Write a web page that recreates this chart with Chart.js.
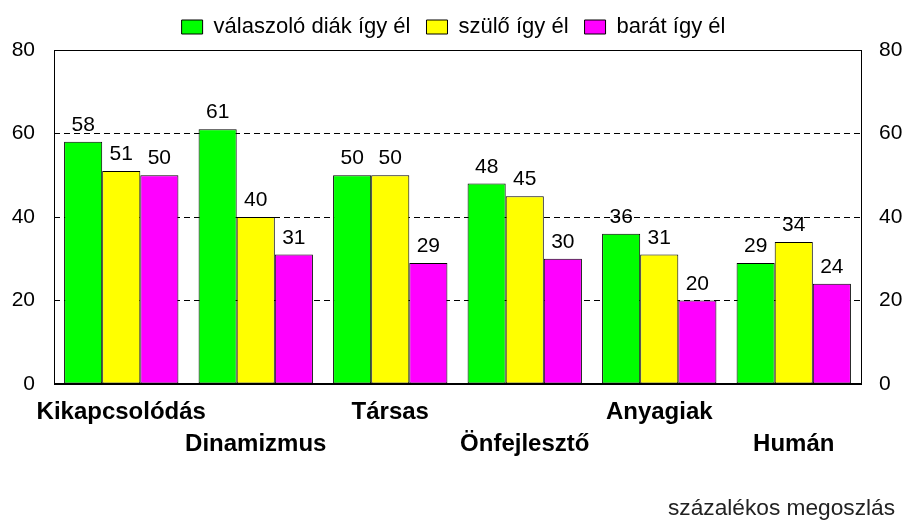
<!DOCTYPE html>
<html>
<head>
<meta charset="utf-8">
<script src="https://cdn.jsdelivr.net/npm/chart.js@4"></script>
<style>
  html, body { margin: 0; padding: 0; background: #fff; }
  #wrap { width: 907px; height: 529px; }
</style>
</head>
<body>
<div id="wrap"><canvas id="chart" width="907" height="529"></canvas></div>
<script>
var categories = ['Kikapcsolódás', 'Dinamizmus', 'Társas', 'Önfejlesztő', 'Anyagiak', 'Humán'];
var seriesNames = ['válaszoló diák így él', 'szülő így él', 'barát így él'];
var diak = [58, 61, 50, 48, 36, 29];
var szulo = [51, 40, 50, 45, 31, 34];
var barat = [50, 31, 29, 30, 20, 24];
var yTicks = [0, 20, 40, 60, 80];
var footnote = 'százalékos megoszlás';

(function() {
  var fontFamily = "Arial, 'Liberation Sans', sans-serif";

  // felváltva első / második sorba kerülnek a kategórianevek
  var labels = categories.map(function(c, i) {
    return i % 2 === 0 ? [c, ''] : ['', c];
  });

  // érték feliratok az oszlopok fölött
  var valueLabels = {
    id: 'valueLabels',
    afterDatasetsDraw: function(chart) {
      var ctx = chart.ctx;
      ctx.save();
      ctx.font = '21px ' + fontFamily;
      ctx.fillStyle = '#000';
      ctx.textAlign = 'center';
      ctx.textBaseline = 'alphabetic';
      chart.data.datasets.forEach(function(ds, di) {
        chart.getDatasetMeta(di).data.forEach(function(bar, i) {
          ctx.fillText(String(ds.data[i]), bar.x, bar.y - 11);
        });
      });
      ctx.restore();
    }
  };

  // keret a rajzterület körül + megjegyzés jobbra lent
  var frame = {
    id: 'frame',
    afterDatasetsDraw: function(chart) {
      var a = chart.chartArea;
      var ctx = chart.ctx;
      ctx.save();
      ctx.strokeStyle = '#000';
      ctx.lineWidth = 1;
      ctx.strokeRect(a.left + 0.5, a.top + 0.5, a.right - a.left, a.bottom - a.top);
      ctx.lineWidth = 2;
      ctx.beginPath();
      ctx.moveTo(a.left, a.bottom);
      ctx.lineTo(a.right + 1, a.bottom);
      ctx.stroke();
      ctx.font = '22.7px ' + fontFamily;
      ctx.fillStyle = '#222';
      ctx.textAlign = 'right';
      ctx.textBaseline = 'alphabetic';
      ctx.fillText(footnote, chart.width - 12, chart.height - 14);
      ctx.restore();
    }
  };

  // a jelmagyarázat sávja fix 50px magas legyen
  var legendHeight = {
    id: 'legendHeight',
    beforeLayout: function(chart) {
      var lg = chart.legend;
      if (lg && !lg._fixedHeight) {
        var fit = lg.fit;
        lg.fit = function() { fit.call(this); this.height = 50; };
        lg._fixedHeight = true;
      }
    }
  };

  var colors = ['#00ff00', '#ffff00', '#ff00ff'];
  var values = [diak, szulo, barat];

  function fixedTicks(scale) {
    scale.ticks = yTicks.map(function(v) { return { value: v }; });
  }

  new Chart(document.getElementById('chart'), {
    type: 'bar',
    data: {
      labels: labels,
      datasets: values.map(function(v, i) {
        return {
          label: seriesNames[i],
          data: v,
          backgroundColor: colors[i],
          borderColor: '#000',
          borderWidth: 1,
          borderSkipped: false,
          categoryPercentage: 0.85,
          barPercentage: 1.0
        };
      })
    },
    options: {
      responsive: false,
      animation: false,
      devicePixelRatio: 1,
      layout: { padding: 0 },
      plugins: {
        legend: {
          position: 'top',
          labels: {
            color: '#000',
            font: { family: fontFamily, size: 22 },
            boxWidth: 21,
            boxHeight: 14,
            padding: 16
          }
        },
        title: { display: false },
        tooltip: { enabled: false }
      },
      scales: {
        x: {
          grid: { display: false, drawTicks: false },
          border: { display: false },
          ticks: {
            color: '#000',
            font: { family: fontFamily, size: 24, weight: 'bold', lineHeight: 1.333 },
            padding: 12,
            maxRotation: 0,
            autoSkip: false
          },
          afterFit: function(scale) { scale.height = 145; }
        },
        y: {
          position: 'left',
          min: 0,
          max: 80,
          afterBuildTicks: fixedTicks,
          grid: {
            drawTicks: false,
            color: function(ctx) {
              return ctx.tick && (ctx.tick.value === 0 || ctx.tick.value === 80) ? 'rgba(0,0,0,0)' : '#000';
            }
          },
          border: { display: false, dash: [6, 4] },
          ticks: {
            color: '#000',
            font: { family: fontFamily, size: 21 },
            padding: 19,
            autoSkip: false
          },
          afterFit: function(scale) { scale.width = 54; }
        },
        y2: {
          position: 'right',
          min: 0,
          max: 80,
          afterBuildTicks: fixedTicks,
          grid: { display: false, drawTicks: false },
          border: { display: false },
          ticks: {
            color: '#000',
            font: { family: fontFamily, size: 21 },
            padding: 18,
            autoSkip: false
          },
          afterFit: function(scale) { scale.width = 46; }
        }
      }
    },
    plugins: [valueLabels, frame, legendHeight]
  });
})();
</script>
</body>
</html>
